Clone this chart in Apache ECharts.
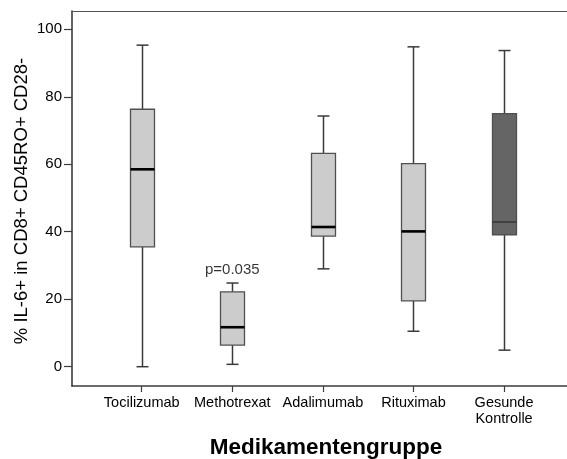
<!DOCTYPE html>
<html>
<head>
<meta charset="utf-8">
<title>IL-6+ CD8+ CD45RO+ CD28- nach Medikamentengruppe</title>
<script src="https://cdn.jsdelivr.net/npm/echarts@6/dist/echarts.min.js"></script>
<style>
  html, body { margin: 0; padding: 0; background: #ffffff; }
  #chart { width: 567px; height: 459px; }
</style>
</head>
<body>
<div id="chart"></div>
<script>
// Groups along the x axis
const categories = ['Tocilizumab', 'Methotrexat', 'Adalimumab', 'Rituximab', 'Gesunde\nKontrolle'];

// Five-number summaries per group (% IL-6+ cells)
const whiskerMin = [0.0, 0.7, 29.0, 10.5, 4.9];
const quartile1  = [35.5, 6.4, 38.7, 19.5, 39.1];
const medians    = [58.5, 11.7, 41.4, 40.1, 42.9];
const quartile3  = [76.3, 22.2, 63.2, 60.2, 75.0];
const whiskerMax = [95.3, 24.8, 74.3, 94.8, 93.7];

// Which groups are patients (light) vs. healthy controls (dark)
const isControl = [false, false, false, false, true];

// Significance note above the Methotrexat group
const pNoteGroup = 1;
const pNoteText = 'p=0.035';

// Y tick labels
const yTicks = [0, 20, 40, 60, 80, 100];

const FONT = "'Liberation Sans', Arial, Helvetica, sans-serif";
const FRAME = '#3c3c3c';
const INK = '#000000';

const boxData = categories.map((c, i) => [
  i, whiskerMin[i], quartile1[i], medians[i], quartile3[i], whiskerMax[i]
]);

function renderBox(params, api) {
  const i = params.dataIndex;
  const x = api.value(0);
  const pt = k => api.coord([x, api.value(k)]);
  const pMin = pt(1), pQ1 = pt(2), pMed = pt(3), pQ3 = pt(4), pMax = pt(5);
  const cx = Math.round(pMin[0]) + 0.5;
  const half = 12, cap = 6;
  const control = isControl[i];
  const whisker = { stroke: '#3a3a3a', lineWidth: 1.5 };
  return {
    type: 'group',
    children: [
      { type: 'line', shape: { x1: cx, y1: pMax[1], x2: cx, y2: pQ3[1] }, style: whisker },
      { type: 'line', shape: { x1: cx, y1: pQ1[1], x2: cx, y2: pMin[1] }, style: whisker },
      { type: 'line', shape: { x1: cx - cap, y1: pMax[1], x2: cx + cap, y2: pMax[1] }, style: whisker },
      { type: 'line', shape: { x1: cx - cap, y1: pMin[1], x2: cx + cap, y2: pMin[1] }, style: whisker },
      {
        type: 'rect',
        shape: { x: cx - half, y: pQ3[1], width: half * 2, height: pQ1[1] - pQ3[1] },
        style: { fill: control ? '#656565' : '#cccccc', stroke: '#505050', lineWidth: 1.3 }
      },
      {
        type: 'line',
        shape: { x1: cx - half, y1: pMed[1], x2: cx + half, y2: pMed[1] },
        style: control ? { stroke: '#2e2e2e', lineWidth: 1.3 } : { stroke: '#000000', lineWidth: 2.6 }
      }
    ]
  };
}

const chart = echarts.init(document.getElementById('chart'), null, { renderer: 'canvas' });

chart.setOption({
  animation: false,
  backgroundColor: '#ffffff',
  textStyle: { fontFamily: FONT },
  grid: { left: 72, right: 0, top: 11, bottom: 73, containLabel: false },
  xAxis: [
    {
      type: 'value',
      min: -0.770,
      max: 4.695,
      position: 'bottom',
      splitLine: { show: false },
      axisLine: { show: true, onZero: false, lineStyle: { color: FRAME, width: 1.6 } },
      axisTick: { show: true, length: 6, customValues: [0, 1, 2, 3, 4], lineStyle: { color: FRAME, width: 1.2 } },
      axisLabel: {
        show: true,
        customValues: [0, 1, 2, 3, 4],
        margin: 9,
        fontSize: 14.5,
        lineHeight: 16,
        color: INK,
        fontFamily: FONT,
        formatter: v => categories[Math.round(v)] || ''
      }
    },
    {
      type: 'value',
      min: -0.770,
      max: 4.695,
      position: 'top',
      splitLine: { show: false },
      axisLine: { show: true, onZero: false, lineStyle: { color: '#555555', width: 1.2 } },
      axisTick: { show: false },
      axisLabel: { show: false }
    }
  ],
  yAxis: {
    type: 'value',
    min: -5.72,
    max: 105.42,
    position: 'left',
    splitLine: { show: false },
    axisLine: { show: true, onZero: false, lineStyle: { color: FRAME, width: 1.6 } },
    axisTick: { show: true, length: 8, customValues: yTicks, lineStyle: { color: FRAME, width: 1.2 } },
    axisLabel: {
      show: true,
      customValues: yTicks,
      margin: 10,
      fontSize: 15,
      color: INK,
      fontFamily: FONT
    }
  },
  graphic: [
    {
      // y axis title, rotated to read bottom-to-top
      type: 'text',
      x: 22,
      y: 201,
      rotation: Math.PI / 2,
      style: {
        text: '% IL-6+ in CD8+ CD45RO+ CD28-',
        font: "18.5px 'Liberation Sans', Arial, sans-serif",
        fill: INK,
        align: 'center',
        verticalAlign: 'middle'
      }
    },
    {
      type: 'text',
      x: 326,
      y: 448,
      style: {
        text: 'Medikamentengruppe',
        font: "bold 22.5px 'Liberation Sans', Arial, sans-serif",
        fill: INK,
        align: 'center',
        verticalAlign: 'middle'
      }
    }
  ],
  series: [
    {
      type: 'custom',
      xAxisIndex: 0,
      yAxisIndex: 0,
      renderItem: renderBox,
      encode: { x: 0, y: [1, 2, 3, 4, 5] },
      data: boxData,
      silent: true
    },
    {
      type: 'scatter',
      xAxisIndex: 0,
      yAxisIndex: 0,
      symbolSize: 0,
      silent: true,
      data: [[pNoteGroup, whiskerMax[pNoteGroup]]],
      label: {
        show: true,
        position: 'top',
        distance: 6,
        formatter: pNoteText,
        fontSize: 15,
        color: INK,
        fontFamily: FONT
      }
    }
  ]
});
</script>
</body>
</html>
